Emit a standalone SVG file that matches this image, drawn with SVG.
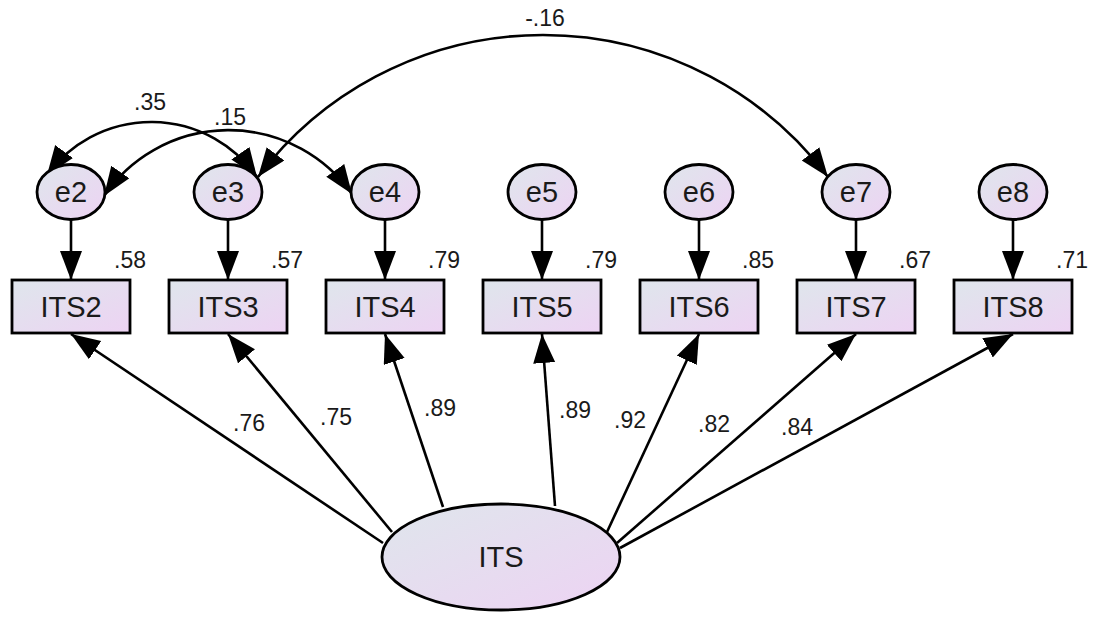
<svg xmlns="http://www.w3.org/2000/svg" width="1094" height="617" viewBox="0 0 1094 617">
<style>
.shape{fill:url(#g);stroke:#000;stroke-width:2.8}
.node{font-family:"Liberation Sans",Arial,sans-serif;font-size:29px;fill:#1a1a1a;text-anchor:middle}
.lbl{font-family:"Liberation Sans",Arial,sans-serif;font-size:23px;fill:#1a1a1a;text-anchor:middle}
.c{fill:none;stroke:#000;stroke-width:2.6}
.one{marker-end:url(#ah)}
.two{marker-start:url(#ah);marker-end:url(#ah)}
</style>
<defs>
<linearGradient id="g" x1="0" y1="0" x2="1" y2="1">
<stop offset="0" stop-color="#dfe6ec"/>
<stop offset="1" stop-color="#edd3f3"/>
</linearGradient>
<marker id="ah" markerUnits="userSpaceOnUse" markerWidth="32" markerHeight="24" refX="29" refY="11" orient="auto-start-reverse" viewBox="0 0 32 24">
<path d="M0,0 L29,11 L0,22 Z" fill="#000"/>
</marker>
</defs>
<rect width="1094" height="617" fill="#fff"/>
<g id="connectors">
<path class="c two" d="M47,175 A129,129 0 0 1 257,177"/>
<path class="c two" d="M104,196 A151,151 0 0 1 352,194"/>
<path class="c two" d="M258,177 A357,357 0 0 1 828,177"/>
<line class="c one" x1="71" y1="219" x2="71" y2="280"/>
<line class="c one" x1="228" y1="219" x2="228" y2="280"/>
<line class="c one" x1="385" y1="219" x2="385" y2="280"/>
<line class="c one" x1="542" y1="219" x2="542" y2="280"/>
<line class="c one" x1="699" y1="219" x2="699" y2="280"/>
<line class="c one" x1="856" y1="219" x2="856" y2="280"/>
<line class="c one" x1="1013" y1="219" x2="1013" y2="280"/>
<line class="c one" x1="383" y1="543" x2="71" y2="334"/>
<line class="c one" x1="392" y1="532" x2="228" y2="334"/>
<line class="c one" x1="443" y1="507" x2="385" y2="334"/>
<line class="c one" x1="555" y1="506" x2="542" y2="334"/>
<line class="c one" x1="607" y1="532" x2="699" y2="334"/>
<line class="c one" x1="617" y1="543" x2="856" y2="334"/>
<line class="c one" x1="620" y1="548" x2="1013" y2="334"/>
<text class="lbl" x="150" y="110">.35</text>
<text class="lbl" x="230" y="125">.15</text>
<text class="lbl" x="545" y="26">-.16</text>
<text class="lbl" x="249" y="431">.76</text>
<text class="lbl" x="336" y="425">.75</text>
<text class="lbl" x="440" y="416">.89</text>
<text class="lbl" x="575" y="418">.89</text>
<text class="lbl" x="630" y="428">.92</text>
<text class="lbl" x="714" y="432">.82</text>
<text class="lbl" x="797" y="435">.84</text>
</g>
<g id="e2"><ellipse class="shape" cx="71" cy="192" rx="34" ry="27.5"/><text class="node" x="71" y="202">e2</text></g>
<g id="e3"><ellipse class="shape" cx="228" cy="192" rx="34" ry="27.5"/><text class="node" x="228" y="202">e3</text></g>
<g id="e4"><ellipse class="shape" cx="385" cy="192" rx="34" ry="27.5"/><text class="node" x="385" y="202">e4</text></g>
<g id="e5"><ellipse class="shape" cx="542" cy="192" rx="34" ry="27.5"/><text class="node" x="542" y="202">e5</text></g>
<g id="e6"><ellipse class="shape" cx="699" cy="192" rx="34" ry="27.5"/><text class="node" x="699" y="202">e6</text></g>
<g id="e7"><ellipse class="shape" cx="856" cy="192" rx="34" ry="27.5"/><text class="node" x="856" y="202">e7</text></g>
<g id="e8"><ellipse class="shape" cx="1013" cy="192" rx="34" ry="27.5"/><text class="node" x="1013" y="202">e8</text></g>
<g id="ITS2"><rect class="shape" x="12" y="280" width="118" height="53"/><text class="node" x="71" y="317">ITS2</text><text class="lbl" x="130" y="268">.58</text></g>
<g id="ITS3"><rect class="shape" x="169" y="280" width="118" height="53"/><text class="node" x="228" y="317">ITS3</text><text class="lbl" x="287" y="268">.57</text></g>
<g id="ITS4"><rect class="shape" x="326" y="280" width="118" height="53"/><text class="node" x="385" y="317">ITS4</text><text class="lbl" x="444" y="268">.79</text></g>
<g id="ITS5"><rect class="shape" x="483" y="280" width="118" height="53"/><text class="node" x="542" y="317">ITS5</text><text class="lbl" x="601" y="268">.79</text></g>
<g id="ITS6"><rect class="shape" x="640" y="280" width="118" height="53"/><text class="node" x="699" y="317">ITS6</text><text class="lbl" x="758" y="268">.85</text></g>
<g id="ITS7"><rect class="shape" x="797" y="280" width="118" height="53"/><text class="node" x="856" y="317">ITS7</text><text class="lbl" x="915" y="268">.67</text></g>
<g id="ITS8"><rect class="shape" x="954" y="280" width="118" height="53"/><text class="node" x="1013" y="317">ITS8</text><text class="lbl" x="1072" y="268">.71</text></g>
<g id="ITS"><ellipse class="shape" cx="501" cy="557" rx="119" ry="53"/><text class="node" x="501" y="567">ITS</text></g>
</svg>
